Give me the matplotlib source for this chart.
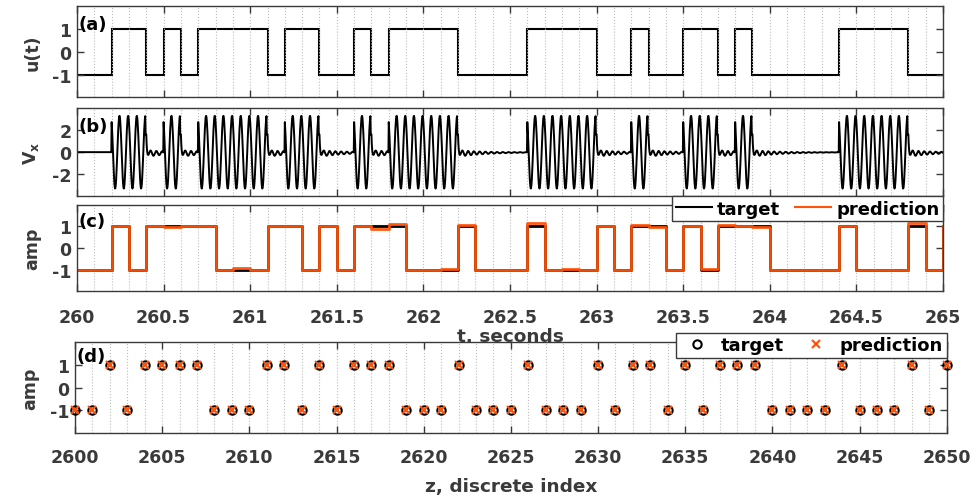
import numpy as np
import matplotlib
matplotlib.use('Agg')
import matplotlib.pyplot as plt
from matplotlib.lines import Line2D
from matplotlib.ticker import MultipleLocator

plt.rcParams['font.family'] = ['DejaVu Sans']
plt.rcParams['font.weight'] = 'bold'
plt.rcParams['mathtext.fontset'] = 'dejavusans'
plt.rcParams['axes.unicode_minus'] = False

# ---- data ----
t_start = 260.0
t_step = 0.1

# (a) input switching sequence, one value per 0.1 s slot, 260.0 .. 264.9
u_vals = [-1, -1, 1, 1, -1, 1, -1, 1, 1, 1,
          1, -1, 1, 1, -1, -1, 1, -1, 1, 1,
          1, 1, -1, -1, -1, -1, 1, 1, 1, 1,
          -1, -1, 1, -1, -1, 1, 1, -1, 1, -1,
          -1, -1, -1, -1, 1, 1, 1, 1, -1, -1]

# (c)/(d) discrete symbols, z = 2600 .. 2650
z_first = 2600
target = [-1, -1, 1, -1, 1, 1, 1, 1, -1, -1,
          -1, 1, 1, -1, 1, -1, 1, 1, 1, -1,
          -1, -1, 1, -1, -1, -1, 1, -1, -1, -1,
          1, -1, 1, 1, -1, 1, -1, 1, 1, 1,
          -1, -1, -1, -1, 1, -1, -1, -1, 1, -1,
          1]
# raw network output shown in (c)
prediction = [-1.0, -1.0, 1.0, -1.0, 1.0, 0.95, 1.03, 1.02, -1.02, -0.93,
              -1.0, 1.0, 1.0, -1.0, 1.0, -1.0, 1.0, 0.88, 1.12, -1.02,
              -1.02, -0.98, 1.07, -1.0, -1.0, -1.0, 1.15, -1.02, -0.97, -1.0,
              1.0, -1.0, 1.08, 0.95, -1.0, 1.0, -0.99, 1.05, 1.02, 0.97,
              -1.0, -1.0, -1.0, -1.0, 1.0, -1.0, -1.0, -1.02, 1.15, -1.0,
              1.0]
# decided symbols shown in (d)
predicted_symbols = [-1, -1, 1, -1, 1, 1, 1, 1, -1, -1,
                     -1, 1, 1, -1, 1, -1, 1, 1, 1, -1,
                     -1, -1, 1, -1, -1, -1, 1, -1, -1, -1,
                     1, -1, 1, 1, -1, 1, -1, 1, 1, 1,
                     -1, -1, -1, -1, 1, -1, -1, -1, 1, -1,
                     1]

# (b) V_x response: 20 Hz bursts while u = 1, small ringing afterwards
vx_amp = 3.3
vx_freq = 20.0
vx_phase = 0.6
ring_hump = 1.6
ring_amp = 0.3
ring_freq = 30.0

ORANGE = '#ff5208'
GREY = '#3a3a3a'

# ---- build series on the time base ----
edges = t_start + t_step * np.arange(len(u_vals) + 1)
t = np.arange(0, 2501) * 0.002 + t_start

runs = []
k = 0
while k < len(u_vals):
    if u_vals[k] == 1:
        j = k
        while j < len(u_vals) and u_vals[j] == 1:
            j += 1
        runs.append((edges[k], edges[j]))
        k = j
    else:
        k += 1

vx = np.zeros_like(t)
for i, (t_on, t_off) in enumerate(runs):
    on = (t >= t_on) & (t < t_off - 0.005)
    vx[on] = vx_amp * np.cos(2 * np.pi * vx_freq * (t[on] - t_on) + vx_phase)
    t_next = runs[i + 1][0] if i + 1 < len(runs) else t[-1] + 1
    off = (t >= t_off - 0.005) & (t < t_next)
    dt = t[off] - t_off
    vx[off] = (ring_hump * np.exp(-np.clip(dt, 0, None) / 0.004)
               - ring_amp * np.exp(-dt / 0.15) * np.sin(2 * np.pi * ring_freq * np.clip(dt, 0, None))
               - 0.12 * np.exp(-dt / 0.25) * (dt > 0))

t_sym = t_start + t_step * np.arange(len(target))
z = z_first + np.arange(len(target))

# ---- figure ----
fig = plt.figure(figsize=(9.77, 5.02), dpi=100)
W, H = 977.0, 502.0


def make_ax(left, right, top, bottom):
    return fig.add_axes([left / W, 1 - bottom / H, (right - left) / W, (bottom - top) / H])


ax_a = make_ax(77, 943, 7.3, 98.3)
ax_b = make_ax(77, 943, 109, 197.3)
ax_c = make_ax(77, 943, 205.7, 292.3)
ax_d = make_ax(75, 946.7, 343.3, 434)


def style(ax, major, minor, yticks, ylim, label, letter, off_px):
    ax.set_ylim(*ylim)
    ax.set_yticks(yticks)
    ax.xaxis.set_major_locator(MultipleLocator(major))
    ax.xaxis.set_minor_locator(MultipleLocator(minor))
    ax.tick_params(which='major', direction='in', top=True, right=True, length=5,
                   width=1, color=GREY, labelcolor=GREY, labelsize=12.5, pad=4)
    ax.tick_params(which='minor', length=0)
    ax.grid(which='both', axis='x', linestyle=':', color='#bdbdbd', linewidth=0.8)
    for s in ax.spines.values():
        s.set_color(GREY)
        s.set_linewidth(1.0)
    ax.set_ylabel(label, fontsize=12.5, color=GREY, fontweight='bold')
    ax.yaxis.set_label_coords(-0.041, 0.5)
    ax.annotate(letter, xy=(0, 1), xycoords='axes fraction', xytext=(2, -off_px),
                textcoords='offset pixels', ha='left', va='top', fontsize=13,
                fontweight='bold', color='black')


# (a)
ax_a.stairs(u_vals, edges, color='black', linewidth=1.5, baseline=None)
ax_a.set_xlim(260, 265)
style(ax_a, 0.5, 0.1, [-1, 0, 1], (-2, 2), 'u(t)', '(a)', 9)
ax_a.tick_params(labelbottom=False)

# (b)
ax_b.plot(t, vx, color='black', linewidth=1.4)
ax_b.set_xlim(260, 265)
style(ax_b, 0.5, 0.1, [-2, 0, 2], (-4, 4), r'$\mathbf{V_x}$', '(b)', 9)
ax_b.tick_params(labelbottom=False)

# (c)
ax_c.step(t_sym, target, where='post', color='black', linewidth=2.0)
ax_c.step(t_sym, prediction, where='post', color=ORANGE, linewidth=2.0, alpha=0.95)
ax_c.set_xlim(260, 265)
style(ax_c, 0.5, 0.1, [-1, 0, 1], (-2, 2), 'amp', '(c)', 7)
ax_c.tick_params(axis='x', pad=12)
ax_c.set_xticks([260, 260.5, 261, 261.5, 262, 262.5, 263, 263.5, 264, 264.5, 265])
ax_c.set_xticklabels(['260', '260.5', '261', '261.5', '262', '262.5', '263',
                      '263.5', '264', '264.5', '265'])
ax_c.set_xlabel('t, seconds', fontsize=13.3, color=GREY, fontweight='bold', labelpad=1)
leg_c = ax_c.legend([Line2D([], [], color='black', lw=1.5), Line2D([], [], color=ORANGE, lw=1.5)],
                    ['target', 'prediction'], loc='lower right', bbox_to_anchor=(1.0, 0.81),
                    ncol=2, fontsize=13, frameon=True, fancybox=False, framealpha=1,
                    edgecolor=GREY, handlelength=2.0, handletextpad=0.3, columnspacing=0.8,
                    borderpad=0.2, borderaxespad=0)
leg_c.get_frame().set_linewidth(1.0)

# (d)
ax_d.plot(z, target, linestyle='none', marker='o', markersize=6, markerfacecolor='none',
          markeredgecolor='black', markeredgewidth=1.5, clip_on=False, zorder=3)
ax_d.plot(z, predicted_symbols, linestyle='none', marker='x', markersize=6, color=ORANGE,
          markeredgewidth=1.5, clip_on=False, zorder=4)
ax_d.set_xlim(2600, 2650)
style(ax_d, 5, 1, [-1, 0, 1], (-2, 2), 'amp', '(d)', 5)
ax_d.tick_params(axis='x', pad=11)
ax_d.set_xlabel('z, discrete index', fontsize=13.3, color=GREY, fontweight='bold', labelpad=8)
leg_d = ax_d.legend([Line2D([], [], linestyle='none', marker='o', markersize=6, markerfacecolor='none',
                            markeredgecolor='black', markeredgewidth=1.5),
                     Line2D([], [], linestyle='none', marker='x', markersize=6, color=ORANGE,
                            markeredgewidth=1.5)],
                    ['target', 'prediction'], loc='lower right', bbox_to_anchor=(1.0, 0.827),
                    ncol=2, fontsize=13, frameon=True, fancybox=False, framealpha=1,
                    edgecolor=GREY, handlelength=2.0, handletextpad=0.3, columnspacing=0.8,
                    borderpad=0.2, borderaxespad=0)
leg_d.get_frame().set_linewidth(1.0)

fig.savefig('out.png', dpi=100)
